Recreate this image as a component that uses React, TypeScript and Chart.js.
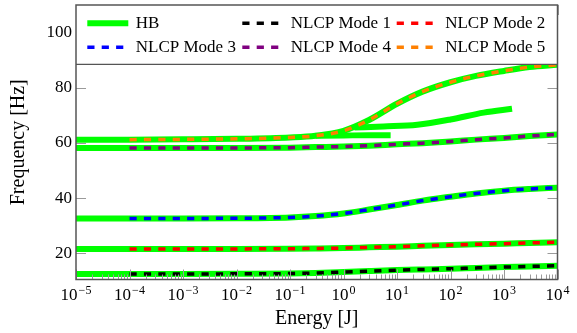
import { useEffect, useRef } from "react";
import { Chart, registerables } from "chart.js";

Chart.register(...registerables);

// ---- data ----
const energies = [1e-5, 1e-4, 1e-3, 1e-2, 1e-1, 0.3, 1, 3, 10, 30, 100, 300, 1000, 3000, 10000];
const mode1 = [12.5, 12.5, 12.5, 12.55, 12.65, 12.85, 13.2, 13.55, 13.9, 14.15, 14.4, 14.7, 15.0, 15.25, 15.5];
const mode2 = [21.6, 21.6, 21.6, 21.6, 21.65, 21.75, 21.9, 22.15, 22.4, 22.7, 23.0, 23.25, 23.5, 23.75, 24.0];
const mode3 = [32.65, 32.65, 32.65, 32.7, 33.0, 33.5, 34.45, 35.85, 37.5, 39.1, 40.5, 41.7, 42.7, 43.3, 43.8];
const mode4 = [58.2, 58.2, 58.2, 58.2, 58.3, 58.5, 58.7, 59.0, 59.5, 59.9, 60.5, 61.2, 61.8, 62.5, 63.1];
const mode5 = [61.2, 61.2, 61.3, 61.5, 62.0, 62.6, 64.4, 68.3, 74.2, 78.6, 82.0, 84.3, 86.1, 87.5, 88.3];
const hbBranchAEnergies = [0.3, 1, 3, 7.6];
const hbBranchAFreq = [62.6, 62.7, 62.8, 62.8];
const hbBranchBEnergies = [1.6, 5.6, 24, 100, 417, 1413];
const hbBranchBFreq = [65.6, 66.0, 66.6, 68.5, 71.0, 72.4];
const nlcpLabels = ["NLCP Mode 1", "NLCP Mode 2", "NLCP Mode 3", "NLCP Mode 4", "NLCP Mode 5"];
const xTickExponents = [-5, -4, -3, -2, -1, 0, 1, 2, 3, 4];
const yTickValues = [20, 40, 60, 80, 100];

// ---- styles ----
const FONT = "'Liberation Serif', 'Times New Roman', serif";
const HB_COLOR = "#00ff00";
const NLCP_COLORS = ["#000000", "#ff0000", "#0000ff", "#800080", "#ff8000"];
const DASH = [7.2, 7.2];

const modes = [mode1, mode2, mode3, mode4, mode5];

function pts(xs: number[], ys: number[]) {
  return xs.map((x, i) => ({ x, y: ys[i] }));
}

const customPlugin = {
  id: "customDecor",
  afterDraw(chart: any) {
    const { ctx, chartArea } = chart;
    const xs = chart.scales.x;
    const ys = chart.scales.y;
    const { left, right, top, bottom } = chartArea;
    ctx.save();

    // inner tick marks
    ctx.strokeStyle = "#9a9a9a";
    ctx.lineWidth = 1;
    ctx.beginPath();
    for (const v of yTickValues) {
      const y = Math.round(ys.getPixelForValue(v)) + 0.5;
      ctx.moveTo(left, y);
      ctx.lineTo(left + 10, y);
      ctx.moveTo(right, y);
      ctx.lineTo(right - 10, y);
    }
    for (const k of xTickExponents) {
      const x = Math.round(xs.getPixelForValue(Math.pow(10, k))) + 0.5;
      ctx.moveTo(x, bottom);
      ctx.lineTo(x, bottom - 10);
      ctx.moveTo(x, top);
      ctx.lineTo(x, top + 10);
      if (k < 4) {
        for (let m = 2; m <= 9; m++) {
          const xm = Math.round(xs.getPixelForValue(m * Math.pow(10, k))) + 0.5;
          ctx.moveTo(xm, bottom);
          ctx.lineTo(xm, bottom - 5);
          ctx.moveTo(xm, top);
          ctx.lineTo(xm, top + 5);
        }
      }
    }
    ctx.stroke();

    // legend
    const lgBottom = top + 59.3;
    ctx.fillStyle = "#ffffff";
    ctx.fillRect(left, top, right - left, lgBottom - top);
    ctx.strokeStyle = "#555555";
    ctx.lineWidth = 1.3;
    ctx.beginPath();
    ctx.moveTo(left, lgBottom);
    ctx.lineTo(right, lgBottom);
    ctx.stroke();

    const entries = chart.data.datasets.filter((d: any) => d.inLegend);
    const colStarts = [11.3, 166.3, 320.7];
    const rowYs = [18.3, 42.3];
    entries.forEach((d: any, i: number) => {
      const col = i % 3;
      const row = Math.floor(i / 3);
      const sx = left + colStarts[col];
      const sy = top + rowYs[row];
      ctx.save();
      ctx.strokeStyle = d.borderColor;
      ctx.lineWidth = d.borderWidth;
      ctx.setLineDash(d.borderDash || []);
      ctx.lineCap = "butt";
      ctx.beginPath();
      ctx.moveTo(sx, sy);
      ctx.lineTo(sx + 41, sy);
      ctx.stroke();
      ctx.restore();
      ctx.fillStyle = "#000000";
      ctx.font = `17px ${FONT}`;
      ctx.textBaseline = "middle";
      ctx.textAlign = "left";
      ctx.fillText(d.label, sx + 48.5, sy);
    });

    // frame
    ctx.strokeStyle = "#555555";
    ctx.lineWidth = 1.5;
    ctx.strokeRect(left, top, right - left, bottom - top);

    // x tick labels with superscript exponents
    ctx.fillStyle = "#000000";
    ctx.textAlign = "left";
    ctx.textBaseline = "alphabetic";
    for (const k of xTickExponents) {
      const x = xs.getPixelForValue(Math.pow(10, k));
      const base = "10";
      const exp = k < 0 ? "\u2212" + Math.abs(k) : String(k);
      ctx.font = `17px ${FONT}`;
      const w1 = ctx.measureText(base).width;
      ctx.font = `12px ${FONT}`;
      const w2 = ctx.measureText(exp).width;
      const start = x - (w1 + w2 + 1) / 2;
      ctx.font = `17px ${FONT}`;
      ctx.fillText(base, start, bottom + 20.5);
      ctx.font = `12px ${FONT}`;
      ctx.fillText(exp, start + w1 + 1, bottom + 14.5);
    }
    ctx.restore();
  },
};

export default function App() {
  const canvasRef = useRef<HTMLCanvasElement | null>(null);

  useEffect(() => {
    document.body.style.margin = "0";
    const canvas = canvasRef.current;
    if (!canvas) return;

    const datasets: any[] = [];
    modes.forEach((m, i) => {
      datasets.push({
        label: "HB",
        inLegend: i === 0,
        data: pts(energies, m),
        borderColor: HB_COLOR,
        borderWidth: 6,
        order: 2,
      });
    });
    datasets.push({
      label: "HB",
      inLegend: false,
      data: pts(hbBranchAEnergies, hbBranchAFreq),
      borderColor: HB_COLOR,
      borderWidth: 6,
      order: 2,
    });
    datasets.push({
      label: "HB",
      inLegend: false,
      data: pts(hbBranchBEnergies, hbBranchBFreq),
      borderColor: HB_COLOR,
      borderWidth: 6,
      order: 2,
    });
    modes.forEach((m, i) => {
      datasets.push({
        label: nlcpLabels[i],
        inLegend: true,
        data: pts(energies.slice(1), m.slice(1)),
        borderColor: NLCP_COLORS[i],
        borderWidth: 3.5,
        borderDash: DASH,
        order: 1,
      });
    });

    const chart = new Chart(canvas, {
      type: "line",
      data: { datasets },
      plugins: [customPlugin],
      options: {
        animation: false,
        responsive: false,
        maintainAspectRatio: false,
        devicePixelRatio: 1,
        events: [],
        layout: { padding: { left: 0, top: 5, right: 19.5, bottom: 0 } },
        plugins: { legend: { display: false }, tooltip: { enabled: false } },
        elements: {
          point: { radius: 0 },
          line: { cubicInterpolationMode: "monotone", borderCapStyle: "butt", fill: false },
        },
        scales: {
          x: {
            type: "logarithmic",
            min: 1e-5,
            max: 1e4,
            ticks: { display: false },
            grid: { display: false, drawTicks: false },
            border: { display: false },
            title: {
              display: true,
              text: "Energy [J]",
              color: "#000000",
              font: { family: FONT, size: 20 },
              padding: { top: 0, bottom: 2.4 },
            },
            afterFit: (s: any) => {
              s.height = 53.5;
              s.paddingLeft = 0;
              s.paddingRight = 0;
            },
          },
          y: {
            type: "linear",
            min: 10.5,
            max: 110,
            afterBuildTicks: (s: any) => {
              s.ticks = yTickValues.map((v) => ({ value: v }));
            },
            ticks: { color: "#000000", font: { family: FONT, size: 17 }, padding: 4 },
            grid: { display: false, drawTicks: false },
            border: { display: false },
            title: {
              display: true,
              text: "Frequency [Hz]",
              color: "#000000",
              font: { family: FONT, size: 20 },
              padding: { top: 7, bottom: 0 },
            },
            afterFit: (s: any) => {
              s.width = 76;
              s.paddingTop = 0;
              s.paddingBottom = 0;
            },
          },
        },
      } as any,
    });

    return () => {
      chart.destroy();
    };
  }, []);

  return (
    <div style={{ width: 577, height: 333, position: "relative" }}>
      <canvas ref={canvasRef} width={577} height={333} style={{ display: "block" }} />
    </div>
  );
}
